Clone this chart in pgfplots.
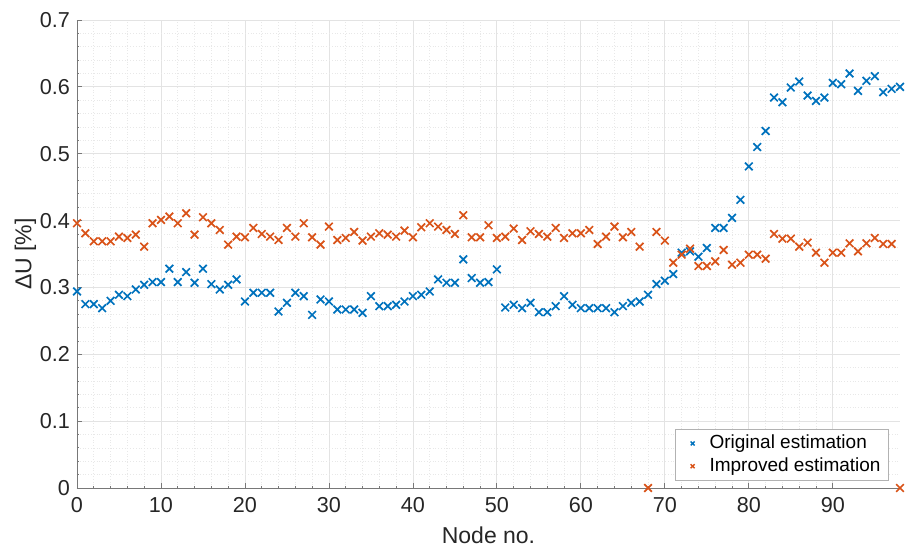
\documentclass[border=0pt]{standalone}
\usepackage{fontspec}
\setmainfont{Liberation Sans}
\usepackage{pgfplots}
\pgfplotsset{compat=1.18}
\definecolor{mblue}{RGB}{0,114,189}
\definecolor{morange}{RGB}{217,83,25}
\definecolor{axgray}{RGB}{120,120,120}
\definecolor{txt}{RGB}{38,38,38}

\pgfplotstableread{
n u
0 0.294
1 0.275
2 0.275
3 0.269
4 0.280
5 0.289
6 0.287
7 0.297
8 0.304
9 0.308
10 0.308
11 0.328
12 0.308
13 0.323
14 0.307
15 0.328
16 0.305
17 0.297
18 0.304
19 0.312
20 0.279
21 0.292
22 0.292
23 0.292
24 0.264
25 0.277
26 0.292
27 0.287
28 0.259
29 0.282
30 0.279
31 0.267
32 0.267
33 0.267
34 0.262
35 0.287
36 0.272
37 0.272
38 0.274
39 0.279
40 0.287
41 0.289
42 0.294
43 0.312
44 0.307
45 0.307
46 0.342
47 0.314
48 0.307
49 0.308
50 0.327
51 0.270
52 0.274
53 0.269
54 0.277
55 0.263
56 0.263
57 0.272
58 0.287
59 0.274
60 0.269
61 0.269
62 0.269
63 0.269
64 0.263
65 0.272
66 0.277
67 0.279
68 0.289
69 0.305
70 0.310
71 0.320
72 0.352
73 0.354
74 0.346
75 0.359
76 0.389
77 0.389
78 0.404
79 0.431
80 0.481
81 0.510
82 0.534
83 0.584
84 0.577
85 0.599
86 0.608
87 0.587
88 0.579
89 0.584
90 0.606
91 0.604
92 0.620
93 0.594
94 0.609
95 0.616
96 0.592
97 0.597
98 0.600
}\original

\pgfplotstableread{
n u
0 0.396
1 0.381
2 0.369
3 0.369
4 0.369
5 0.376
6 0.374
7 0.379
8 0.361
9 0.396
10 0.401
11 0.406
12 0.396
13 0.411
14 0.379
15 0.405
16 0.396
17 0.386
18 0.364
19 0.376
20 0.375
21 0.389
22 0.380
23 0.376
24 0.371
25 0.389
26 0.376
27 0.396
28 0.375
29 0.364
30 0.391
31 0.371
32 0.374
33 0.383
34 0.370
35 0.376
36 0.381
37 0.379
38 0.376
39 0.385
40 0.375
41 0.390
42 0.396
43 0.391
44 0.386
45 0.380
46 0.408
47 0.375
48 0.375
49 0.393
50 0.374
51 0.376
52 0.388
53 0.371
54 0.384
55 0.380
56 0.376
57 0.389
58 0.374
59 0.381
60 0.381
61 0.386
62 0.365
63 0.376
64 0.391
65 0.375
66 0.383
67 0.361
68 0
69 0.383
70 0.370
71 0.337
72 0.349
73 0.358
74 0.332
75 0.332
76 0.339
77 0.356
78 0.334
79 0.337
80 0.349
81 0.349
82 0.343
83 0.380
84 0.373
85 0.373
86 0.361
87 0.367
88 0.352
89 0.337
90 0.352
91 0.352
92 0.366
93 0.354
94 0.366
95 0.374
96 0.365
97 0.365
98 0
}\improved

\begin{document}
\begin{tikzpicture}
  \begin{axis}[
    at={(0,0)},anchor=south west,
    scale only axis,
    width=411.5pt,height=234pt,
    xmin=0,xmax=98,ymin=0,ymax=0.7,
    axis lines*=left,
    axis line style={axgray,line width=0.4pt},
    xtick={0,10,20,30,40,50,60,70,80,90},
    ytick={0,0.1,0.2,0.3,0.4,0.5,0.6,0.7},
    minor x tick num=4,minor y tick num=4,
    tick align=inside,
    major tick length=2.5pt,minor tick length=1.2pt,
    tick style={axgray,line width=0.4pt},
    grid=both,
    major grid style={gray!22,line width=0.4pt},
    minor grid style={gray!18,densely dotted,line width=0.35pt},
    /pgf/number format/assume math mode=true,
    ticklabel style={font=\fontsize{10.8}{13}\selectfont,text=txt},
    xticklabel style={yshift=-1pt},
    label style={font=\fontsize{11.5}{14}\selectfont,text=txt},
    xlabel={Node no.},ylabel={ΔU [\%]},
    xlabel style={yshift=-0.5pt},
    ylabel style={yshift=-5pt},
    legend style={at={(1,0)},anchor=south east,xshift=-5.5pt,yshift=3.5pt,
      font=\fontsize{9.5}{12}\selectfont,draw=gray!60,fill=white,
      inner xsep=2pt,inner ysep=1pt,row sep=-1pt},
    legend cell align=left,
    legend image code/.code={\path (0pt,0pt) (12pt,0pt);
      \draw[mark size=1.4pt,line width=0.7pt] plot coordinates {(6pt,0pt)};},
    clip=false,
  ]
    \addplot[only marks,mark=x,mark size=2.7pt,mblue,line width=0.85pt] table[x=n,y=u] {\original};
    \addlegendentry{Original estimation}
    \addplot[only marks,mark=x,mark size=2.7pt,morange,line width=0.85pt] table[x=n,y=u] {\improved};
    \addlegendentry{Improved estimation}
  \end{axis}
  \pgfresetboundingbox
  \path (-38.5pt,-29.5pt) rectangle (414pt,244pt);
\end{tikzpicture}
\end{document}
